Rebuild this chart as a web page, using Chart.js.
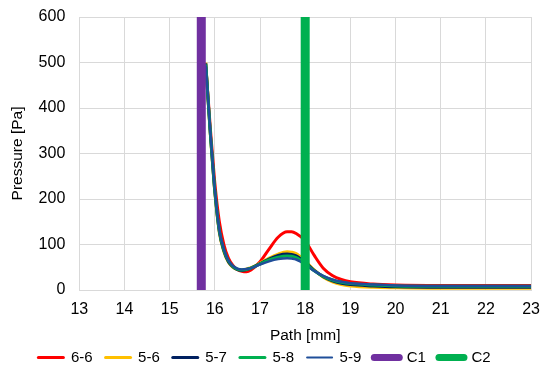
<!DOCTYPE html>
<html>
<head>
<meta charset="utf-8">
<script src="https://cdn.jsdelivr.net/npm/chart.js@4.4.0/dist/chart.umd.min.js"></script>
<style>
  html,body{margin:0;padding:0;background:#fff;}
  #wrap{width:550px;height:372px;}
</style>
</head>
<body>
<div id="wrap"><canvas id="chart" width="550" height="372"></canvas></div>
<script>
// path positions [mm]
const pathX = [15.8,15.85,15.9,15.95,16.0,16.1,16.2,16.3,16.4,16.5,16.6,16.7,16.8,17.0,17.2,17.4,17.6,17.7,17.8,18.0,18.2,18.4,18.6,18.8,19.0,19.5,20,21,22,23];

// pressure [Pa] per configuration
const p66 = [490,425,355,295,235,150,100,70,54,45,41,40,44,62,90,116,128,128,124,108,76,48,32,23,18,13,11,10,10,10];
const p56 = [500,418,342,276,214,126,84,61,50,45,44,46,49,59,70,79,84,83,80,64,44,28,18,12,9,6,5,4,4,4];
const p57 = [498,419,344,278,216,128,86,62,51,45,43,45,48,58,68,76,79,78,75,61,43,29,20,15,12,9,7,6,6,6];
const p58 = [496,420,345,280,218,130,88,64,52,46,44,45,48,57,66,72,75,74,71,58,42,30,22,17,14,11,9,8,8,8];
const p59 = [494,421,347,282,220,132,90,65,53,47,45,46,48,56,63,68,70,69,67,56,42,31,23,18,15,12,10,9,9,9];

// contact positions [mm]
const c1X = 15.7;
const c2X = 18.0;
const yRange = [0, 600];

const names = ['6-6','5-6','5-7','5-8','5-9'];
const colors = ['#ff0000','#ffc000','#002060','#00b050','#1f4e99'];
const series = [p66,p56,p57,p58,p59];

function pts(arr){ return pathX.map((x,i)=>({x:x,y:arr[i]})); }

const datasets = series.map((s,i)=>({
  label:names[i],
  data:pts(s),
  borderColor:colors[i],
  backgroundColor:colors[i],
  borderWidth:i===4?2.5:3,
  pointRadius:0,
  cubicInterpolationMode:'monotone',
  order:10-i
}));

datasets.push({
  label:'C1',
  data:yRange.map(y=>({x:c1X,y:y})),
  borderColor:'#7030a0',backgroundColor:'#7030a0',
  borderWidth:9,pointRadius:0,borderCapStyle:'butt',order:1
});
datasets.push({
  label:'C2',
  data:yRange.map(y=>({x:c2X,y:y})),
  borderColor:'#00b050',backgroundColor:'#00b050',
  borderWidth:9,pointRadius:0,borderCapStyle:'butt',order:0
});

const fam = '"Liberation Sans", Arial, sans-serif';
const tickFont = {family:fam, size:16};
const titleFont = {family:fam, size:15.5};
const legFont = {family:fam, size:15};

// nudge the legend row a bit to the left, like the original
const legendShift = {
  id:'legendShift',
  afterLayout(chart){
    const lg = chart.legend;
    if(!lg) return;
    lg.left -= 10; lg.right -= 10;
  }
};

new Chart(document.getElementById('chart'),{
  type:'line',
  data:{datasets:datasets},
  plugins:[legendShift],
  options:{
    responsive:false,
    animation:false,
    layout:{padding:{left:8,right:9,top:17,bottom:0}},
    scales:{
      x:{
        type:'linear',min:13,max:23,
        ticks:{stepSize:1,color:'#000',font:tickFont,padding:10},
        grid:{color:'#d9d9d9',drawTicks:false},
        border:{color:'#d9d9d9'},
        title:{display:true,text:'Path [mm]',color:'#000',font:titleFont,padding:{top:-3,bottom:-7.8}}
      },
      y:{
        min:0,max:600,
        afterFit(s){ s.paddingTop = 0; },
        ticks:{stepSize:100,color:'#000',font:tickFont,padding:14},
        grid:{color:'#d9d9d9',drawTicks:false},
        border:{color:'#d9d9d9'},
        title:{display:true,text:'Pressure [Pa]',color:'#000',font:titleFont,padding:{top:0,bottom:-2}}
      }
    },
    plugins:{
      legend:{
        position:'bottom',
        maxHeight:35,
        labels:{
          color:'#000',font:legFont,usePointStyle:true,pointStyle:'line',pointStyleWidth:25,
          padding:13,
          generateLabels(chart){
            return chart.data.datasets.map((d,i)=>({
              text:d.label,
              strokeStyle:d.borderColor,
              fillStyle:d.borderColor,
              lineWidth:d.borderWidth>5?7:(d.borderWidth<3?2:3),
              lineCap:'round',
              pointStyle:'line',
              hidden:false,
              datasetIndex:i
            }));
          }
        }
      },
      tooltip:{enabled:false}
    }
  }
});
</script>
</body>
</html>
